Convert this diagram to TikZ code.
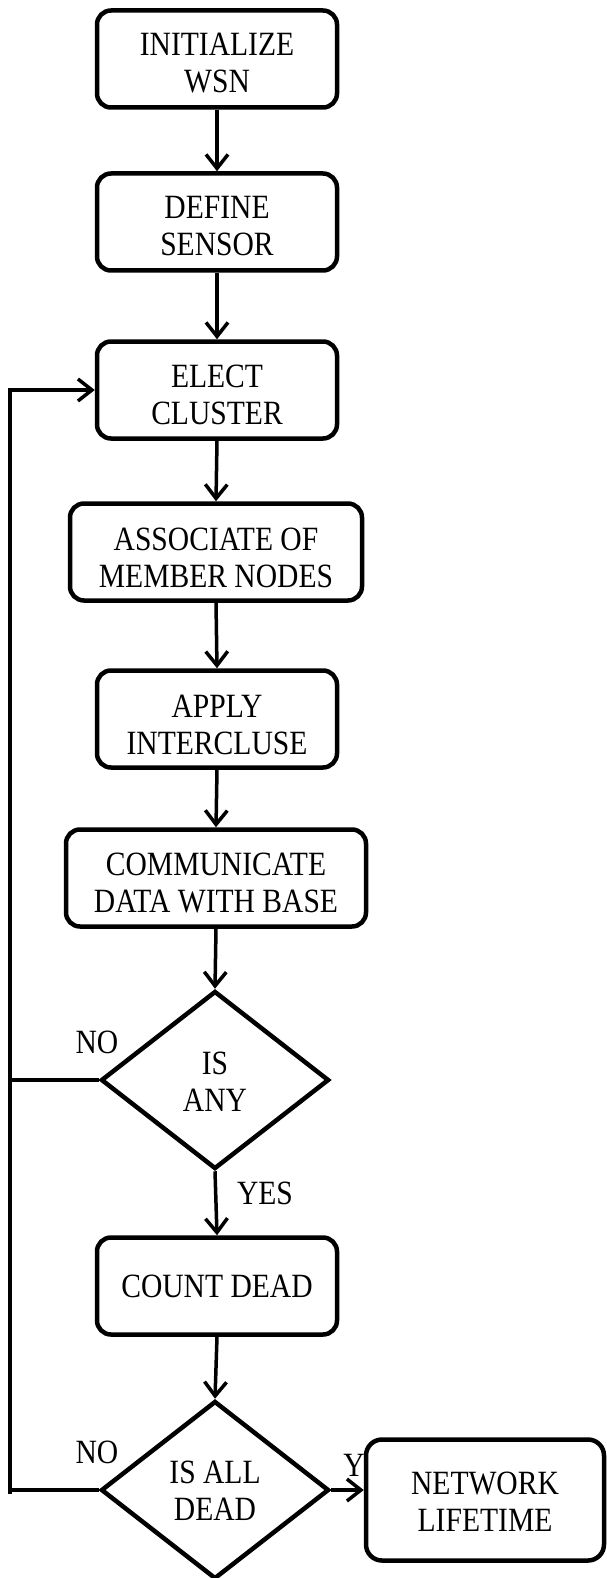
\documentclass[tikz,border=0pt]{standalone}
\usepackage{fontspec}
\setmainfont{Liberation Serif}[FakeStretch=0.87]
\usetikzlibrary{arrows.meta,shapes.geometric}
\newcommand\myraise[1]{\rule{0pt}{#1pt}}
\begin{document}
\begin{tikzpicture}[x=1pt,y=-1pt,
  txt/.style={font=\fontsize{34}{37}\selectfont},
  box/.style={draw, line width=4.5pt, rounded corners=14pt, minimum width=240pt, minimum height=97pt, inner sep=2pt, align=center, fill=white, txt},
  dia/.style={draw, diamond, line width=4.5pt, minimum width=228pt, minimum height=178pt, inner sep=0pt, align=center, fill=white, txt},
  conn/.style={line width=3.5pt},
  arr/.style={conn, -{Straight Barb[length=14pt,width=22pt]}},
  lbl/.style={txt, inner sep=0pt}]
\useasboundingbox (0,0) rectangle (607,1578);

\node[box] (b1) at (217,59) {\myraise{31}INITIALIZE\\WSN};
\node[box] (b2) at (217,222) {\myraise{31}DEFINE\\SENSOR};
\node[box] (b3) at (217,390) {\myraise{32}ELECT\\CLUSTER};
\node[box, minimum width=292pt] (b4) at (216,552) {\myraise{35}ASSOCIATE OF\\MEMBER NODES};
\node[box] (b5) at (217,719) {\myraise{35}APPLY\\INTERCLUSE};
\node[box, minimum width=300pt] (b6) at (216,878) {\myraise{33}COMMUNICATE\\DATA WITH BASE};
\node[dia] (d1) at (215,1080) {\myraise{26}IS\\ANY};
\node[box] (b7) at (217,1286) {COUNT DEAD};
\node[dia] (d2) at (215,1490) {\myraise{25}IS ALL\\DEAD};

\node[lbl] (no1) at (97,1042) {NO};
\node[lbl] (yes1) at (265,1193) {YES};
\node[lbl] (no2) at (97,1452) {NO};
\node[lbl] (y2) at (354,1465) {Y};

\node[box, minimum width=238pt, minimum height=121pt, rounded corners=16pt] (b8) at (485,1500) {\myraise{25}NETWORK\\LIFETIME};

\coordinate (ltop) at (10,390);
\coordinate (lbot) at (10,1494);

\draw[arr] (b1.south) -- (b2.north);
\draw[arr] (b2.south) -- (b3.north);
\draw[arr] (b3.south) -- (b4.north);
\draw[arr] (b4.south) -- (b5.north);
\draw[arr] (b5.south) -- (b6.north);
\draw[arr] (b6.south) -- (d1.north);
\draw[arr] (d1.south) -- (b7.north);
\draw[arr] (b7.south) -- (d2.north);
\draw[arr] (d2.east) -- (d2.east -| b8.west);
\draw[conn] (d1.west) -- (d1.west -| ltop);
\draw[conn] (d2.west) -- (d2.west -| ltop);
\draw[arr] (lbot) -- (ltop) -- (b3.west);
\end{tikzpicture}
\end{document}
